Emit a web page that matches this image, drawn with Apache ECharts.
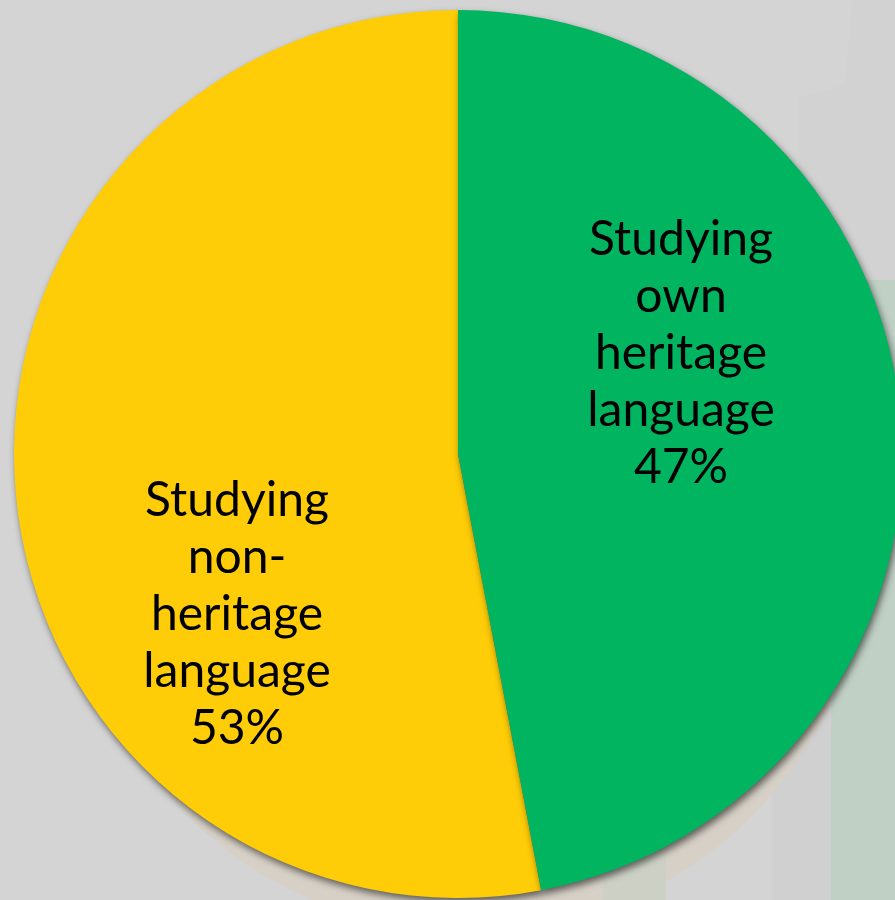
<!DOCTYPE html>
<html>
<head>
<meta charset="utf-8">
<script src="https://cdn.jsdelivr.net/npm/echarts@6/dist/echarts.min.js"></script>
<style>
html,body{margin:0;padding:0;background:#d4d4d4;}
#chart{width:895px;height:900px;}
</style>
</head>
<body>
<div id="chart"></div>
<script>
// Data
const categories = ['Studying\nnon-\nheritage\nlanguage', 'Studying\nown\nheritage\nlanguage'];
const values = [53, 47];
const colors = ['#fecd07', '#00b460'];

const chart = echarts.init(document.getElementById('chart'), null, {renderer: 'canvas'});

const labelShift = [[3, 139], [-1, -79]];

const option = {
  backgroundColor: '#d4d4d4',
  animation: false,
  graphic: [
    { type: 'polygon', z: -10, shape: { points: [[799, 97], [845, 85], [852, 0], [895, 0], [895, 900], [799, 900]] }, style: { fill: '#d2d2d2' }, silent: true },
    { type: 'rect', z: -10, shape: { x: 771, y: 280, width: 60, height: 630 }, style: { fill: '#d0d0d0' }, silent: true },
    { type: 'rect', z: -10, shape: { x: 831, y: 280, width: 70, height: 630 }, style: { fill: '#c0d0c5' }, silent: true },
    { type: 'circle', z: -10, shape: { cx: 470, cy: 535, r: 398 }, style: { fill: '#d6d0c6' }, silent: true },
    { type: 'rect', z: -10, shape: { x: 603, y: 700, width: 63, height: 210 }, style: { fill: '#cdd1c5' }, silent: true }
  ],
  series: [{
    type: 'pie',
    center: [458, 454],
    radius: 444,
    startAngle: 90 - 360 * values[1] / (values[0] + values[1]),
    clockwise: true,
    silent: true,
    data: categories.map((c, i) => ({
      name: c,
      value: values[i],
      itemStyle: { color: colors[i] }
    })),
    itemStyle: {
      borderWidth: 0,
      shadowColor: 'rgba(0,0,0,0.55)',
      shadowBlur: 7,
      shadowOffsetX: 2,
      shadowOffsetY: 4
    },
    label: {
      show: true,
      position: 'inside',
      formatter: p => p.name + '\n' + p.value + '%',
      color: '#000',
      fontFamily: 'Lato',
      fontWeight: 'normal',
      fontSize: 48,
      lineHeight: 57,
      align: 'center'
    },
    labelLine: { show: false },
    labelLayout: params => ({ dx: labelShift[params.dataIndex][0], dy: labelShift[params.dataIndex][1] })
  }]
};
chart.setOption(option);
</script>
</body>
</html>
